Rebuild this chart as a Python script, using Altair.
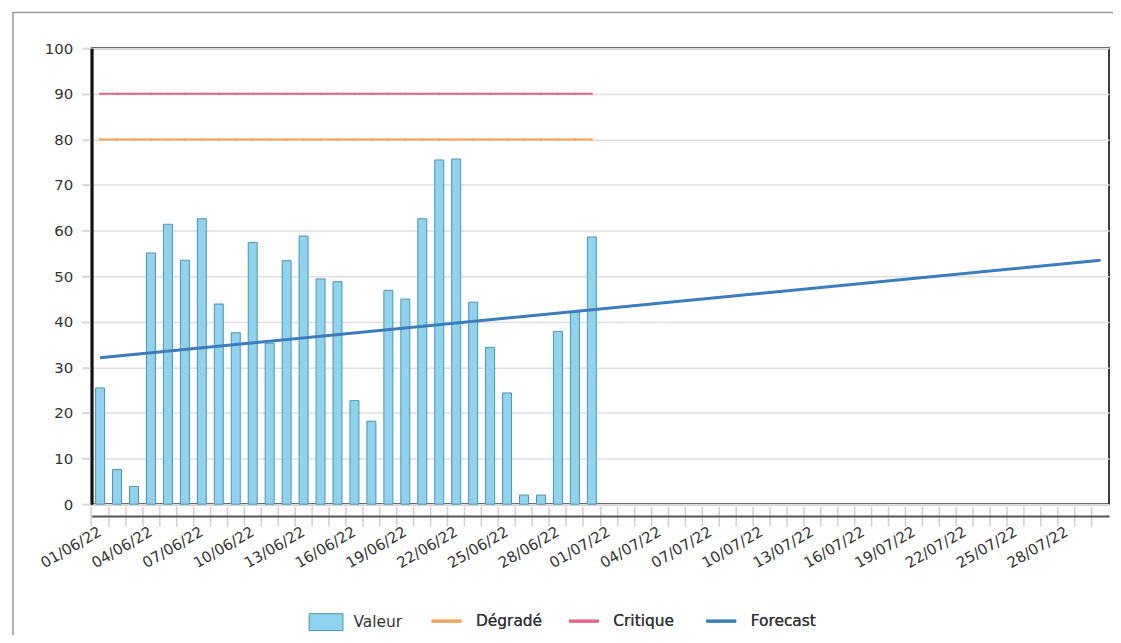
import altair as alt
import pandas as pd

# Category axis: one band per day, 01/06/22 .. 30/07/22
dates = [f"{d:02d}/06/22" for d in range(1, 31)] + [f"{d:02d}/07/22" for d in range(1, 31)]
bar_dates = dates[:30]

valeur = [25.5, 7.6, 3.9, 55.1, 61.4, 53.5, 62.6, 43.9, 37.6, 57.4,
          35.3, 53.4, 58.8, 49.4, 48.8, 22.7, 18.2, 46.9, 45.0, 62.6,
          75.5, 75.7, 44.3, 34.4, 24.4, 2.0, 2.0, 37.9, 42.2, 58.6]
degrade = [80] * 30
critique = [90] * 30
forecast_dates = ["01/06/22", "30/07/22"]
forecast_vals = [32.1, 53.5]

series_lines = ["Dégradé", "Critique", "Forecast"]
line_colors = ["#f7a25c", "#e4668a", "#3a7cbe"]
bar_fill = "#8fd4ee"
bar_stroke = "#4d93ad"

df_bars = pd.DataFrame({"date": bar_dates, "value": valeur, "serie": "Valeur"})
df_thr = pd.concat([
    pd.DataFrame({"date": bar_dates, "value": degrade, "serie": "Dégradé"}),
    pd.DataFrame({"date": bar_dates, "value": critique, "serie": "Critique"}),
])
df_fc = pd.DataFrame({"date": forecast_dates, "value": forecast_vals, "serie": "Forecast"})

FONT = "DejaVu Sans"
W, H = 1022, 458

xscale = alt.Scale(type="band", domain=dates, paddingInner=0, paddingOuter=0)
yscale = alt.Scale(domain=[0, 100], nice=False)

yaxis = alt.Axis(values=list(range(0, 101, 10)), domainColor="#111111", domainWidth=3,
                 tickSize=10, tickColor="#d5d5d5", tickWidth=2,
                 gridColor="#dedede", gridWidth=1.5,
                 labelFontSize=15, labelPadding=9, labelColor="#333333", title=None)

label_expr = ("(toNumber(substring(datum.value,0,2)) - 1) % 3 == 0 && "
              "toNumber(substring(datum.value,0,2)) <= 28 ? datum.value : ''")

axisA = alt.Axis(orient="bottom", bandPosition=0, domain=False, offset=2, tickSize=20,
                 tickColor="#cfcfcf", tickWidth=1.5, labelAngle=330,
                 labelAlign="right", labelBaseline="middle", labelExpr=label_expr,
                 labelOverlap=False, labelPadding=4, labelFontSize=15,
                 labelColor="#333333", grid=False, title=None)
axisB = alt.Axis(orient="bottom", offset=12, domain=True, domainColor="#555555",
                 domainWidth=2, ticks=False, labels=False, grid=False, title=None)

legA = alt.Legend(orient="none", legendX=218, legendY=559, title=None,
                  symbolType="M-1,-0.5H1V0.5H-1Z", symbolSize=1156,
                  symbolStrokeColor=bar_stroke, symbolStrokeWidth=1,
                  labelFontSize=15.5, labelOffset=10, labelColor="#333333")
legB = alt.Legend(orient="none", legendX=340, legendY=559, title=None,
                  direction="horizontal", columns=3, symbolType="stroke",
                  symbolSize=900, symbolStrokeWidth=3, labelFontSize=15.5,
                  labelOffset=13, columnPadding=20, gridAlign="all",
                  labelColor="#333333")

line_scale = alt.Scale(domain=series_lines, range=line_colors)

frame = alt.Chart(pd.DataFrame({"k": [0]})).mark_rect(
    fillOpacity=0, stroke="#9a9a9a", strokeWidth=1.5, clip=False
).encode(x=alt.value(-79), x2=alt.value(1100), y=alt.value(-36), y2=alt.value(700))

bars = alt.Chart(df_bars).mark_bar(size=9, stroke=bar_stroke, strokeWidth=1).encode(
    x=alt.X("date:O", scale=xscale, sort=None, axis=axisA),
    y=alt.Y("value:Q", scale=yscale, axis=yaxis, stack=None),
    color=alt.Color("serie:N", scale=alt.Scale(domain=["Valeur"], range=[bar_fill]), legend=legA),
)

thr = alt.Chart(df_thr).mark_line(
    strokeWidth=2, point=alt.OverlayMarkDef(filled=True, size=5)
).encode(
    x=alt.X("date:O", scale=xscale, sort=None, axis=None),
    y=alt.Y("value:Q", scale=yscale, axis=yaxis),
    color=alt.Color("serie:N", scale=line_scale, legend=legB),
    detail="serie:N",
)

fc = alt.Chart(df_fc).mark_line(strokeWidth=3).encode(
    x=alt.X("date:O", scale=xscale, sort=None, axis=axisB),
    y=alt.Y("value:Q", scale=yscale, axis=yaxis),
    color=alt.Color("serie:N", scale=line_scale, legend=legB),
)

chart = alt.layer(frame, bars, thr, fc).resolve_scale(
    color="independent"
).resolve_axis(x="independent").properties(
    width=W, height=H,
    autosize=alt.AutoSizeParams(type="none"),
    padding={"left": 84, "top": 39, "right": 4, "bottom": 130},
).configure(
    font=FONT
).configure_view(
    stroke="#3a3a3a", strokeWidth=2
)

chart.save("out.html", embed_options={"renderer": "svg", "actions": False})
